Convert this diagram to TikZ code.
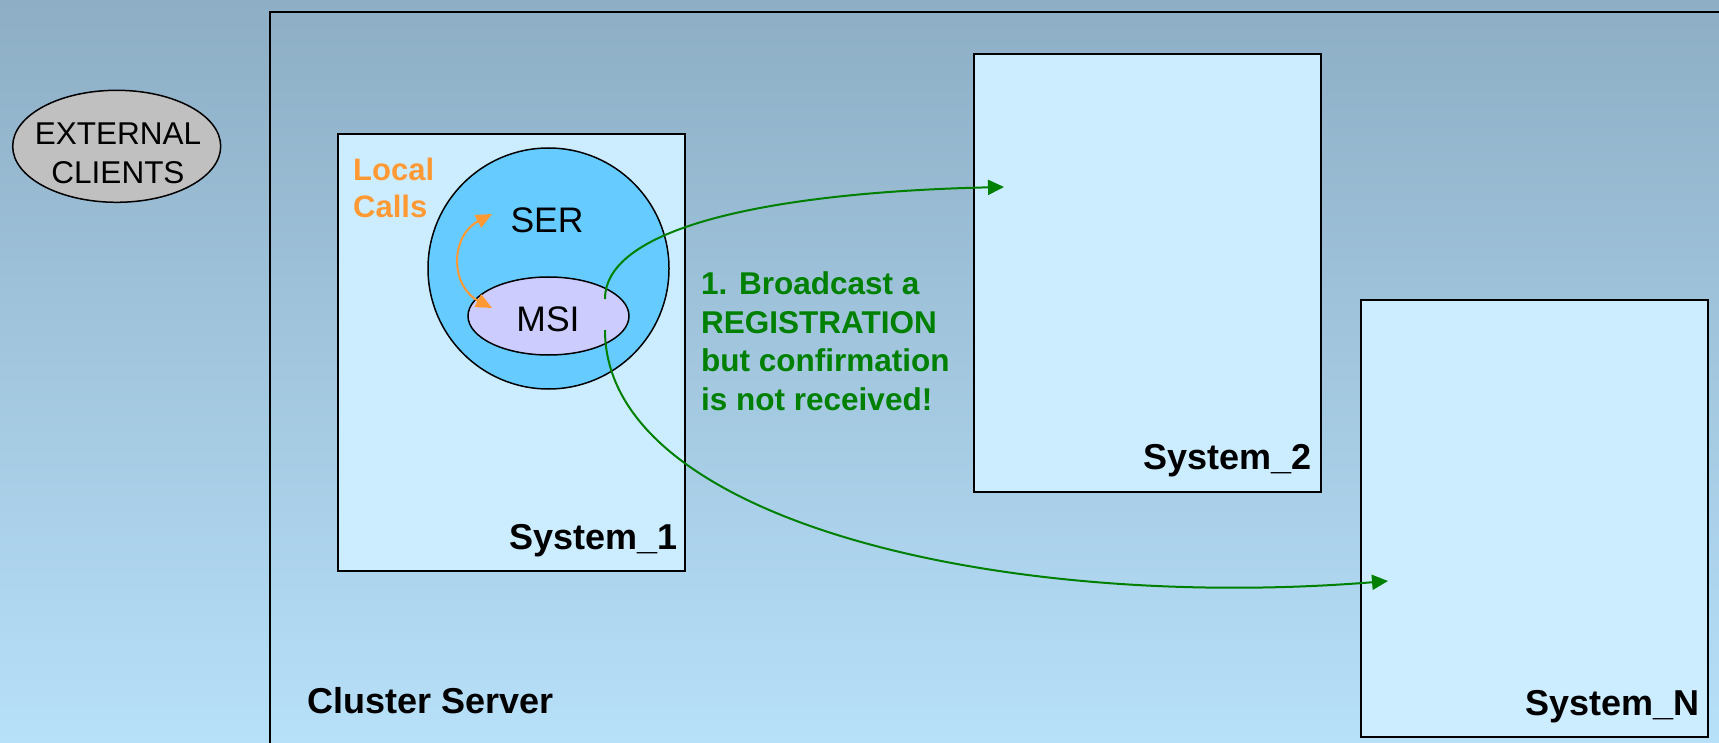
\documentclass[tikz,border=0pt]{standalone}
\usepackage{fontspec}
\setmainfont{Liberation Sans}
\usetikzlibrary{shapes.geometric,arrows.meta}
\definecolor{bgtop}{HTML}{8DAEC5}
\definecolor{bgbot}{HTML}{B7E0F9}
\definecolor{sysfill}{HTML}{CCECFF}
\definecolor{serfill}{HTML}{66CCFF}
\definecolor{msifill}{HTML}{CCCCFF}
\definecolor{extfill}{HTML}{C0C0C0}
\definecolor{callorange}{HTML}{FF9933}
\definecolor{bcgreen}{HTML}{008000}
\tikzset{
  sysbox/.style={draw=black, line width=2pt, fill=sysfill, anchor=north west, inner sep=0pt},
  syslabel/.style={font=\fontsize{36}{40}\selectfont\bfseries, anchor=base east, inner sep=0pt},
  greenarrow/.style={draw=bcgreen, line width=2pt, -{Triangle[length=16pt,width=15pt]}},
  orangearrow/.style={draw=callorange, line width=2pt, {Triangle[length=16pt,width=14pt]}-{Triangle[length=16pt,width=14pt]}},
}
\begin{document}
\begin{tikzpicture}[x=1pt,y=-1pt]
\useasboundingbox (0,0) rectangle (1719,743);
\clip (0,0) rectangle (1719,743);
\shade[top color=bgtop, bottom color=bgbot] (0,0) rectangle (1719,743);
% cluster server frame (extends beyond the page)
\node[draw=black, line width=2pt, anchor=north west, minimum width=1600pt, minimum height=900pt, inner sep=0pt] (cluster) at (269,11) {};
\node[font=\fontsize{36}{40}\selectfont\bfseries, anchor=base west, inner sep=0pt] (clusterlbl) at (307,713) {Cluster Server};
% external clients
\node[ellipse, draw=black, line width=1.5pt, fill=extfill, minimum width=208pt, minimum height=112pt, inner sep=0pt] (ext) at (116.7,146.3) {};
\node[font=\fontsize{31.5}{39}\selectfont, align=center, anchor=base, inner sep=0pt] (extlbl) at (118,184) {EXTERNAL\\CLIENTS};
% systems
\node[sysbox, minimum width=347pt, minimum height=437pt] (s1) at (337,133) {};
\node[sysbox, minimum width=347pt, minimum height=438pt] (s2) at (973,53) {};
\node[sysbox, minimum width=347pt, minimum height=437pt] (sn) at (1360,299) {};
\node[syslabel] (s1lbl) at ([shift={(-8,-23)}]s1.south east) {System\_1};
\node[syslabel] (s2lbl) at ([shift={(-10,-24)}]s2.south east) {System\_2};
\node[syslabel] (snlbl) at ([shift={(-9,-23)}]sn.south east) {System\_N};
% SER circle and MSI ellipse
\node[circle, draw=black, line width=1.5pt, fill=serfill, minimum size=241pt, inner sep=0pt] (ser) at (548.5,268.5) {};
\node[ellipse, draw=black, line width=1.5pt, fill=msifill, minimum width=161pt, minimum height=78pt, inner sep=0pt] (msi) at (548.5,316) {};
\node[font=\fontsize{35.5}{40}\selectfont, anchor=base, inner sep=0pt] (serlbl) at (547,233) {SER};
\node[font=\fontsize{35.5}{40}\selectfont, anchor=base, inner sep=0pt] (msilbl) at (548,331) {MSI};
% local calls
\node[font=\fontsize{31}{37}\selectfont\bfseries, text=callorange, align=left, anchor=north west, inner sep=0pt] (local) at (353,158) {Local\\Calls};
\coordinate (sertip) at (492,214);
\coordinate (msitip) at (492,308);
\draw[orangearrow] (sertip) .. controls (450,236) and (450,286) .. (msitip);
% broadcast text
\node[font=\fontsize{31.5}{38.5}\selectfont\bfseries, text=bcgreen, align=left, anchor=base west, inner sep=0pt] (bcast) at (701,410) {1. Broadcast a\\REGISTRATION\\but confirmation\\is not received!};
% green arrows
\coordinate (out1) at (605,299);
\coordinate (out2) at (605,330);
\coordinate (in2) at (1004,187);
\coordinate (inN) at (1388,581);
\draw[greenarrow] (out1) .. controls (605,225) and (780,192) .. (in2);
\draw[greenarrow] (out2) .. controls (605,520) and (1000,612) .. (inN);
\end{tikzpicture}
\end{document}
